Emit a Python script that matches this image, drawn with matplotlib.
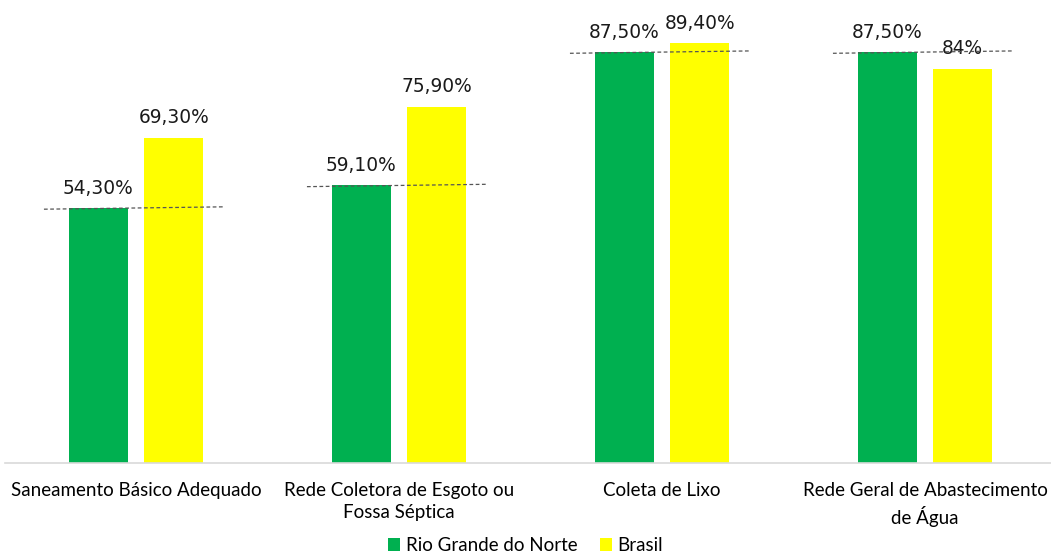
import numpy as np
import matplotlib.pyplot as plt

categorias = ["Saneamento Básico Adequado", "Rede Coletora de Esgoto ou\nFossa Séptica",
              "Coleta de Lixo", "Rede Geral de Abastecimento\nde Água"]
rn = [54.3, 59.1, 87.5, 87.5]
brasil = [69.3, 75.9, 89.4, 84.0]
rn_labels = ["54,30%", "59,10%", "87,50%", "87,50%"]
br_labels = ["69,30%", "75,90%", "89,40%", "84%"]

verde = "#00B050"
amarelo = "#FFFF00"

fig = plt.figure(figsize=(10.51, 5.55), dpi=100)
ax = fig.add_axes([4.5 / 1051, (555 - 463) / 555, 1052 / 1051, 463 / 555])

x = np.arange(len(categorias))
w = 0.224
off = 0.1435
ax.bar(x - off, rn, w, color=verde, label="Rio Grande do Norte")
ax.bar(x + off, brasil, w, color=amarelo, label="Brasil")

for i in range(len(x)):
    ax.text(x[i] - off, rn[i] + 2.2, rn_labels[i], ha="center", va="bottom",
            fontsize=13.4, color="#1a1a1a")
    ax.text(x[i] + off, brasil[i] + 2.2, br_labels[i], ha="center", va="bottom",
            fontsize=13.4, color="#1a1a1a")
    # linha tracejada no nivel do RN
    ax.plot([x[i] - 0.35, x[i] + 0.33], [rn[i] - 0.25, rn[i] + 0.25],
            ls=(0, (3, 2)), color="#555555", lw=0.9, zorder=3)

ax.set_xlim(-0.5, 3.5)
ax.set_ylim(0, 98.6)
ax.set_yticks([])
ax.set_xticks(x)
ax.set_xticklabels(categorias, fontsize=13.5, family="Lato", linespacing=1.35)
ax.tick_params(axis="x", length=0, pad=14)
for s in ["top", "right", "left"]:
    ax.spines[s].set_visible(False)
ax.spines["bottom"].set_color("#D9D9D9")
ax.spines["bottom"].set_linewidth(1.2)

fig.legend(loc="center", bbox_to_anchor=(0.5, 9.5 / 555), ncol=2, frameon=False,
           prop={"family": "Lato", "size": 13.5}, handlelength=0.65, handleheight=0.65,
           handletextpad=0.3, columnspacing=1.2, borderpad=0.05)

fig.savefig("out.png", dpi=100)
